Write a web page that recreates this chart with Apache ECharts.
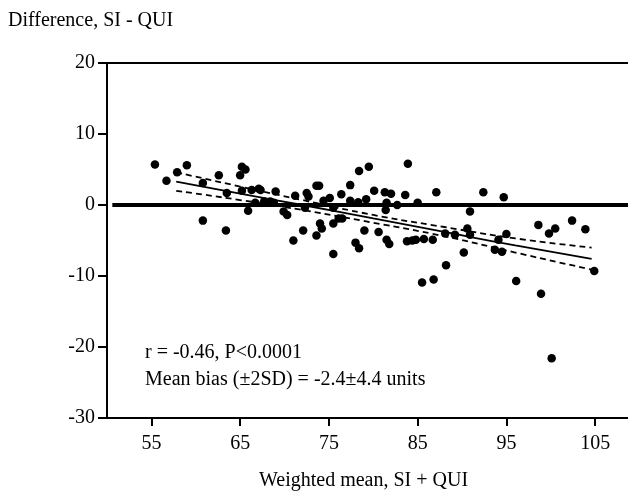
<!DOCTYPE html>
<html>
<head>
    <meta charset="utf-8">
    <title>Difference vs weighted mean</title>
    <script src="https://cdn.jsdelivr.net/npm/echarts@6/dist/echarts.min.js"></script>
    <style>
        html, body { margin: 0; padding: 0; background: #fff; }
    </style>
</head>
<body>
<div id="main" style="width: 628px;height:498px;"></div>
<script>
    // weighted mean (x) and difference (y) of each subject
    var meanX = [55.4, 56.7, 57.9, 59.0, 60.8, 62.6, 60.8, 63.4, 65.2, 65.6,
        65.0, 63.5, 65.2, 66.3, 67.1, 66.7, 65.9, 69.0, 68.4, 68.8,
        69.9, 70.3, 67.3, 67.7, 71.2, 72.5, 72.7, 73.6, 73.9, 77.4,
        76.4, 78.4, 79.5, 83.9, 80.1, 81.3, 82.0, 83.6, 87.1, 74.4,
        75.1, 77.4, 78.3, 79.2, 81.5, 82.7, 85.0, 72.3, 76.1, 76.5,
        75.5, 74.0, 74.2, 72.1, 71.0, 73.6, 79.0, 80.6, 78.0, 78.4,
        75.5, 81.5, 81.8, 83.8, 84.4, 84.8, 85.7, 86.7, 92.4, 94.7,
        90.9, 98.6, 99.8, 100.5, 102.4, 103.9, 90.6, 90.9, 88.1, 89.2,
        95.0, 94.1, 93.7, 94.5, 90.2, 88.2, 85.5, 86.8, 96.1, 98.9,
        104.9, 100.1, 81.4, 75.5];
    var diffY = [5.7, 3.4, 4.6, 5.6, 3.1, 4.2, -2.2, -3.6, 5.4, 5.0,
        4.2, 1.7, 2.0, 2.1, 2.3, 0.3, -0.8, 1.9, 0.5, 0.3,
        -0.9, -1.4, 2.1, 0.5, 1.3, 1.7, 1.2, 2.7, 2.7, 2.8,
        1.5, 4.8, 5.4, 5.8, 2.0, 1.8, 1.6, 1.4, 1.8, 0.6,
        1.0, 0.6, 0.4, 0.8, 0.3, 0.0, 0.3, -0.4, -1.9, -1.9,
        -2.6, -2.6, -3.3, -3.6, -5.0, -4.3, -3.6, -3.8, -5.3, -6.1,
        -6.9, -4.9, -5.5, -5.1, -5.0, -4.9, -4.8, -4.9, 1.8, 1.1,
        -0.9, -2.8, -4.0, -3.3, -2.2, -3.4, -3.3, -4.2, -4.0, -4.2,
        -4.1, -4.9, -6.3, -6.6, -6.7, -8.5, -10.9, -10.5, -10.7, -12.5,
        -9.3, -21.6, -0.7, -0.4];

    // regression line and its dashed band, read at a few x positions
    var fitX = [57.8, 65, 72, 80, 88, 96, 104.6];
    var fitY = [3.3, 1.6, 0.0, -1.9, -3.8, -5.7, -7.6];
    var upperY = [4.6, 2.6, 0.7, -1.4, -3.1, -4.7, -6.0];
    var lowerY = [2.0, 0.7, -0.7, -2.5, -4.4, -6.7, -9.1];

    // line of zero difference
    var zeroX = [50.6, 108.7];
    var zeroY = [0, 0];

    var xTicks = [55, 65, 75, 85, 95, 105];

    var serif = '"Liberation Serif", "Times New Roman", serif';

    function zip(a, b) {
        var out = [];
        for (var i = 0; i < a.length; i++) {
            out.push([a[i], b[i]]);
        }
        return out;
    }

    var myChart = echarts.init(document.getElementById('main'));

    var option = {
        animation: false,
        backgroundColor: '#fff',
        grid: {
            left: 107,
            top: 63,
            right: 0,
            bottom: 80
        },
        graphic: [
            {type: 'text', left: 8, top: 11,
                style: {text: 'Difference, SI - QUI', font: '20px ' + serif, fill: '#000'}},
            {type: 'text', left: 145, top: 343,
                style: {text: 'r = -0.46, P<0.0001', font: '20px ' + serif, fill: '#000'}},
            {type: 'text', left: 145, top: 370,
                style: {text: 'Mean bias (\u00b12SD) = -2.4\u00b14.4 units', font: '20px ' + serif, fill: '#000'}},
            {type: 'text', left: 259, top: 471,
                style: {text: 'Weighted mean, SI + QUI', font: '20px ' + serif, fill: '#000'}}
        ],
        xAxis: [
            {
                type: 'value',
                min: 50,
                max: 108.7,
                axisLine: {onZero: false, lineStyle: {color: '#000', width: 2}},
                axisTick: {show: true, customValues: xTicks, length: 8, lineStyle: {color: '#000', width: 2}},
                axisLabel: {customValues: xTicks, color: '#000', fontSize: 20, fontFamily: serif, margin: 16},
                splitLine: {show: false}
            },
            {
                type: 'value',
                position: 'top',
                min: 50,
                max: 108.7,
                axisLine: {onZero: false, lineStyle: {color: '#000', width: 2}},
                axisTick: {show: false},
                axisLabel: {show: false},
                splitLine: {show: false}
            }
        ],
        yAxis: {
            type: 'value',
            min: -30,
            max: 20,
            interval: 10,
            axisLine: {show: true, onZero: false, lineStyle: {color: '#000', width: 2}},
            axisTick: {show: true, length: 9, lineStyle: {color: '#000', width: 2}},
            axisLabel: {color: '#000', fontSize: 20, fontFamily: serif, margin: 12},
            splitLine: {show: false}
        },
        series: [
            {
                type: 'line',
                data: zip(zeroX, zeroY),
                symbol: 'none',
                lineStyle: {color: '#000', width: 4},
                z: 3
            },
            {
                type: 'line',
                data: zip(fitX, fitY),
                symbol: 'none',
                smooth: true,
                lineStyle: {color: '#000', width: 1.8},
                z: 3
            },
            {
                type: 'line',
                data: zip(fitX, upperY),
                symbol: 'none',
                smooth: true,
                lineStyle: {color: '#000', width: 1.8, type: [6, 4]},
                z: 3
            },
            {
                type: 'line',
                data: zip(fitX, lowerY),
                symbol: 'none',
                smooth: true,
                lineStyle: {color: '#000', width: 1.8, type: [6, 4]},
                z: 3
            },
            {
                type: 'scatter',
                data: zip(meanX, diffY),
                symbol: 'circle',
                symbolSize: 8.5,
                itemStyle: {color: '#000', opacity: 1},
                z: 4
            }
        ]
    };

    myChart.setOption(option);
</script>
</body>
</html>
